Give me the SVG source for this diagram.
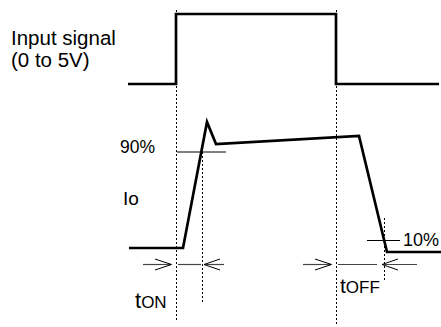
<svg xmlns="http://www.w3.org/2000/svg" width="441" height="327" viewBox="0 0 441 327">
<style>
.t{font-family:"Liberation Sans",Arial,sans-serif;fill:#000}
.w{fill:none;stroke:#000;stroke-width:2.7;stroke-linejoin:miter}
.d{fill:none;stroke:#000;stroke-width:1;stroke-dasharray:2,2}
.th{fill:none;stroke:#000;stroke-width:1}
.g{fill:none;stroke:#444;stroke-width:1.2}
</style>
<rect width="441" height="327" fill="#fff"/>
<g id="input-label">
<text class="t" x="11" y="45" font-size="20.5">Input signal</text>
<text class="t" x="11" y="67" font-size="20.5">(0 to 5V)</text>
</g>
<g id="input-signal">
<polyline class="w" points="128,84 176,84 176,14 336,14 336,84 439,84"/>
</g>
<g id="io-label">
<text class="t" x="123" y="205" font-size="19">Io</text>
</g>
<g id="io-signal">
<polyline class="w" points="129,248 183,248 207,122 216,144 359,136 387,252 441,252"/>
</g>
<g id="levels">
<line class="th" x1="177" y1="152" x2="226" y2="152"/>
<text class="t" x="120" y="153" font-size="17.5">90%</text>
<line class="th" x1="367" y1="240.5" x2="400" y2="240.5"/>
<text class="t" x="403" y="246" font-size="18">10%</text>
</g>
<g id="connectors">
<line class="d" x1="176.5" y1="10" x2="176.5" y2="320"/>
<line class="d" x1="336.5" y1="10" x2="336.5" y2="325"/>
<line class="d" x1="202.5" y1="152" x2="202.5" y2="302"/>
<line class="d" x1="384.5" y1="218" x2="384.5" y2="282"/>
<line class="g" x1="143" y1="264.5" x2="171" y2="264.5"/>
<polyline class="th" points="155,259 171.5,264.5 155,270"/>
<line class="g" x1="178" y1="264.5" x2="201" y2="264.5"/>
<line class="g" x1="205" y1="264.5" x2="224" y2="264.5"/>
<polyline class="th" points="220,259 204,264.5 220,270"/>
<line class="g" x1="303" y1="264.5" x2="331" y2="264.5"/>
<polyline class="th" points="315,259 331.5,264.5 315,270"/>
<line class="g" x1="338" y1="264.5" x2="377" y2="264.5"/>
<line class="g" x1="383" y1="264.5" x2="417" y2="264.5"/>
<polyline class="th" points="398,259 382,264.5 398,270"/>
</g>
<g id="ton-label">
<text class="t" x="135" y="308"><tspan font-size="22">t</tspan><tspan font-size="17">ON</tspan></text>
</g>
<g id="toff-label">
<text class="t" x="340" y="293"><tspan font-size="21">t</tspan><tspan font-size="17">OFF</tspan></text>
</g>
</svg>
